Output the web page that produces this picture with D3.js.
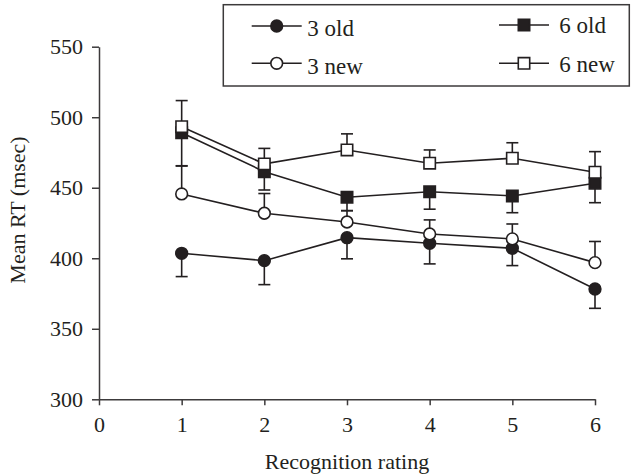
<!DOCTYPE html>
<html>
<head>
<meta charset="utf-8">
<script src="https://cdn.jsdelivr.net/npm/d3@7"></script>
<style>
  body { margin: 0; background: #fff; }
  svg { display: block; }
  svg text { font-family: "Liberation Serif", "DejaVu Serif", serif; }
</style>
</head>
<body>
<svg id="chart"></svg>
<script>
// data
const ratings = [1, 2, 3, 4, 5, 6];
const old3 = [403.5, 398.3, 414.6, 410.6, 407.1, 378.2];
const old3Err = [16.5, 17, 15, 14.6, 12.3, 13.7];      // drawn downward
const new3 = [445.6, 431.9, 425.7, 417.2, 413.7, 396.9];
const new3Err = [20, 14, 8, 10, 10.6, 15];             // drawn upward
const old6 = [489, 461.4, 443.3, 447.2, 444.2, 453.2];
const old6Err = [23.6, 13, 9.5, 12.4, 11.9, 13.8];     // drawn downward
const new6 = [493.3, 466.9, 476.8, 467.4, 470.9, 461];
const new6Err = [18.5, 11, 11.4, 9.4, 11, 14.6];       // drawn upward
const xTicks = [0, 1, 2, 3, 4, 5, 6];
const yTicks = [300, 350, 400, 450, 500, 550];

const series = [
    { name: "3 old", values: old3, err: old3Err, dir: -1, shape: "circle", fill: "#231f20" },
    { name: "6 old", values: old6, err: old6Err, dir: -1, shape: "square", fill: "#231f20" },
    { name: "3 new", values: new3, err: new3Err, dir: 1, shape: "circle", fill: "#fff" },
    { name: "6 new", values: new6, err: new6Err, dir: 1, shape: "square", fill: "#fff" }
];

const ink = "#231f20";
let svg = d3.select("#chart").attr("width", 633).attr("height", 475);

let x = d3.scaleLinear().domain([0, 6]).range([99, 595]);
let y = d3.scaleLinear().domain([300, 550]).range([399.3, 46.7]);

// axes
let xAxis = svg.append("g")
    .attr("transform", `translate(0,${y(300)})`)
    .call(d3.axisBottom(x).tickValues(xTicks).tickFormat(d3.format("d"))
        .tickSize(6).tickSizeOuter(0).tickPadding(11));
let yAxis = svg.append("g")
    .attr("transform", `translate(${x(0)},0)`)
    .call(d3.axisLeft(y).tickValues(yTicks).tickFormat(d3.format("d"))
        .tickSize(7).tickSizeOuter(0).tickPadding(9));

[xAxis, yAxis].forEach(a => {
    a.attr("font-family", null).attr("font-size", null);
    a.selectAll("path, line").attr("stroke", "#3c3a3b").attr("stroke-width", 1.5);
    a.selectAll("text").attr("fill", ink).style("font-size", "22px");
});

svg.append("text")
    .attr("x", (x(0) + x(6)) / 2)
    .attr("y", 469)
    .attr("text-anchor", "middle")
    .attr("fill", ink)
    .style("font-size", "22px")
    .text("Recognition rating");

svg.append("text")
    .attr("transform", "translate(25,210) rotate(-90)")
    .attr("text-anchor", "middle")
    .attr("fill", ink)
    .style("font-size", "22px")
    .text("Mean RT (msec)");

function symbolFor(s) {
    return d3.symbol()
        .type(s.shape == "circle" ? d3.symbolCircle : d3.symbolSquare)
        .size(s.shape == "circle" ? 108 : 130)();
}

// error bars first
series.forEach(s => {
    let g = svg.append("g");
    ratings.forEach((r, i) => {
        let end = s.values[i] + s.dir * s.err[i];
        g.append("line")
            .attr("x1", x(r)).attr("x2", x(r))
            .attr("y1", y(s.values[i])).attr("y2", y(end))
            .attr("stroke", ink).attr("stroke-width", 1.6);
        g.append("line")
            .attr("x1", x(r) - 6).attr("x2", x(r) + 6)
            .attr("y1", y(end)).attr("y2", y(end))
            .attr("stroke", ink).attr("stroke-width", 1.6);
    });
});

// connecting lines
const line = d3.line().x((d, i) => x(ratings[i])).y(d => y(d));
series.forEach(s => {
    svg.append("path")
        .attr("d", line(s.values))
        .attr("fill", "none")
        .attr("stroke", ink)
        .attr("stroke-width", 1.6);
});

// markers
series.forEach(s => {
    svg.append("g").selectAll("path")
        .data(s.values)
        .join("path")
        .attr("d", symbolFor(s))
        .attr("transform", (d, i) => `translate(${x(ratings[i])},${y(d)})`)
        .attr("fill", s.fill)
        .attr("stroke", ink)
        .attr("stroke-width", 1.6);
});

// legend
let legend = svg.append("g");
legend.append("rect")
    .attr("x", 223.3).attr("y", 4.7)
    .attr("width", 406).attr("height", 81.3)
    .attr("fill", "#fff")
    .attr("stroke", "#3c3a3b")
    .attr("stroke-width", 1.5);

const legendPos = [
    { cx: 276.7, cy: 26, tx: 307.3, ty: 36 },
    { cx: 524, cy: 25, tx: 559.3, ty: 33 },
    { cx: 276.7, cy: 63.3, tx: 307.3, ty: 74 },
    { cx: 524, cy: 63.3, tx: 559.3, ty: 72 }
];

series.forEach((s, i) => {
    let p = legendPos[i];
    let item = legend.append("g");
    item.append("line")
        .attr("x1", p.cx - 25).attr("x2", p.cx + 25)
        .attr("y1", p.cy).attr("y2", p.cy)
        .attr("stroke", ink).attr("stroke-width", 1.6);
    item.append("path")
        .attr("d", symbolFor(s))
        .attr("transform", `translate(${p.cx},${p.cy})`)
        .attr("fill", s.fill)
        .attr("stroke", ink)
        .attr("stroke-width", 1.6);
    item.append("text")
        .attr("x", p.tx).attr("y", p.ty)
        .attr("fill", ink)
        .style("font-size", "23px")
        .text(s.name);
});
</script>
</body>
</html>
